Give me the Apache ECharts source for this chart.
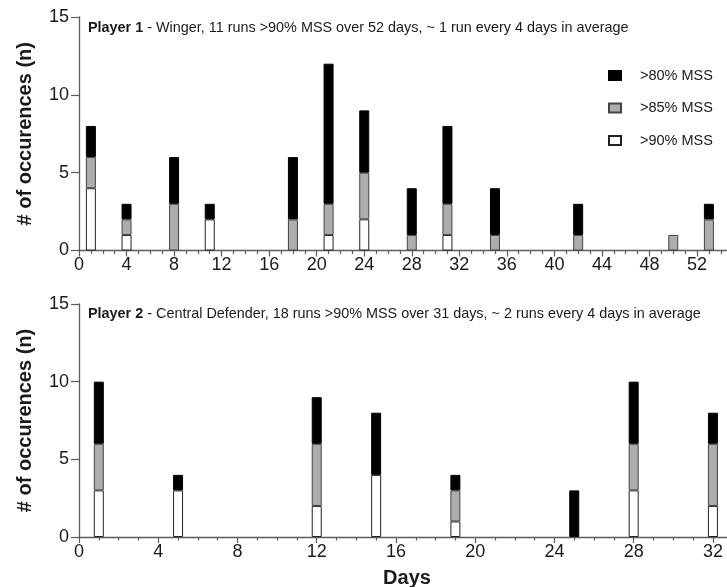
<!DOCTYPE html>
<html>
<head>
<meta charset="utf-8">
<script src="https://cdn.jsdelivr.net/npm/echarts@6/dist/echarts.min.js"></script>
<style>
  html, body { margin: 0; padding: 0; background: #fff; }
  #chart { width: 727px; height: 587px; }
</style>
</head>
<body>
<div id="chart"></div>
<script>
// Player 1 (Winger): days with high-speed runs, counts per speed band
const p1Days   = [1, 4, 8, 11, 18, 21, 24, 28, 31, 35, 42, 50, 53];
const p1Over90 = [4, 1, 0, 2, 0, 1, 2, 0, 1, 0, 0, 0, 0];
const p1Over85 = [2, 1, 3, 0, 2, 2, 3, 1, 2, 1, 1, 1, 2];
const p1Over80 = [2, 1, 3, 1, 4, 9, 4, 3, 5, 3, 2, 0, 1];

// Player 2 (Central Defender)
const p2Days   = [1, 5, 12, 15, 19, 25, 28, 32];
const p2Over90 = [3, 3, 2, 4, 1, 0, 3, 2];
const p2Over85 = [3, 0, 4, 0, 2, 0, 3, 4];
const p2Over80 = [4, 1, 3, 4, 1, 3, 4, 2];

const bandNames = ['>90% MSS', '>85% MSS', '>80% MSS'];
const bandColors = ['#ffffff', '#adadad', '#000000'];
const bandBorders = ['#222222', '#444444', '#000000'];

const xTicks = 4;
const yTicks = 5;
const yMax = 15;
const p1AxisMax = 56;
const p2AxisMax = 36;

const FONT = 'Liberation Sans, Arial, sans-serif';
const TXT = '#1a1a1a';
const AXIS = '#5c5c5c';

// one category per day, so stacked bars line up with the value axis ticks
function dayCategories(max) {
  const out = [];
  for (let d = 0; d <= max; d++) out.push(String(d));
  return out;
}

function pairs(days, vals) {
  return days.map((d, i) => [d, vals[i] === 0 ? null : vals[i]]);
}

function bandSeries(catAxis, yIdx, days, bands, stackId) {
  return bands.map((vals, b) => ({
    name: bandNames[b],
    type: 'bar',
    xAxisIndex: catAxis,
    yAxisIndex: yIdx,
    stack: stackId,
    barWidth: 10,
    data: pairs(days, vals),
    itemStyle: { color: bandColors[b], borderColor: bandBorders[b], borderWidth: 1 },
    emphasis: { disabled: true },
    animation: false
  }));
}

function xAxisDef(idx, max) {
  return {
    type: 'value', gridIndex: idx, min: 0, max: max, interval: xTicks,
    axisLine: { lineStyle: { color: AXIS, width: 1.3 } },
    axisTick: { length: 6, lineStyle: { color: AXIS, width: 1.2 } },
    minorTick: { show: true, splitNumber: 4, length: 3.5, lineStyle: { color: AXIS, width: 1.2 } },
    axisLabel: { fontSize: 18, color: TXT, fontFamily: FONT, margin: 6 },
    splitLine: { show: false },
    minorSplitLine: { show: false }
  };
}

function catAxisDef(idx, max) {
  return {
    type: 'category', gridIndex: idx, data: dayCategories(max), boundaryGap: false,
    show: false
  };
}

function yAxisDef(idx) {
  return {
    type: 'value', gridIndex: idx, min: 0, max: yMax, interval: yTicks,
    name: '# of occurences (n)', nameLocation: 'middle', nameGap: 44,
    nameTextStyle: { fontSize: 20, fontWeight: 'bold', color: TXT, fontFamily: FONT },
    axisLine: { show: true, lineStyle: { color: AXIS, width: 1.3 } },
    axisTick: { show: true, length: 8, lineStyle: { color: AXIS, width: 1.2 } },
    axisLabel: { fontSize: 18, color: TXT, fontFamily: FONT, margin: 10 },
    splitLine: { show: false }
  };
}

function panelTitle(boldPart, rest, top) {
  return {
    text: '{b|' + boldPart + '}' + rest,
    left: 88, top: top, padding: 0,
    textStyle: {
      fontSize: 14.4, fontWeight: 'normal', color: TXT, fontFamily: FONT,
      rich: { b: { fontSize: 14.4, fontWeight: 'bold', color: TXT, fontFamily: FONT } }
    }
  };
}

const chart = echarts.init(document.getElementById('chart'), null, { renderer: 'canvas' });
chart.setOption({
  backgroundColor: '#ffffff',
  animation: false,
  title: [
    panelTitle('Player 1', ' - Winger, 11 runs >90% MSS over 52 days, ~ 1 run every 4 days in average', 21),
    panelTitle('Player 2', ' - Central Defender, 18 runs >90% MSS over 31 days, ~ 2 runs every 4 days in average', 307),
    {
      text: 'Days', left: 407, top: 568, padding: 0, textAlign: 'center',
      textStyle: { fontSize: 20, fontWeight: 'bold', color: TXT, fontFamily: FONT }
    }
  ],
  legend: {
    data: ['>80% MSS', '>85% MSS', '>90% MSS'],
    orient: 'vertical', left: 603, top: 63,
    icon: 'rect', itemWidth: 12, itemHeight: 9, itemGap: 17.5,
    selectedMode: false,
    textStyle: { fontSize: 14.5, color: TXT, fontFamily: FONT, padding: [0, 0, 0, 14] }
  },
  grid: [
    { left: 79, top: 17, width: p1AxisMax * 11.885, height: 233.5, containLabel: false, outerBoundsMode: 'none' },
    { left: 79, top: 304, width: p2AxisMax * 19.81, height: 233, containLabel: false, outerBoundsMode: 'none' }
  ],
  xAxis: [
    xAxisDef(0, p1AxisMax), xAxisDef(1, p2AxisMax),
    catAxisDef(0, p1AxisMax), catAxisDef(1, p2AxisMax)
  ],
  yAxis: [yAxisDef(0), yAxisDef(1)],
  series: [
    ...bandSeries(2, 0, p1Days, [p1Over90, p1Over85, p1Over80], 'p1'),
    ...bandSeries(3, 1, p2Days, [p2Over90, p2Over85, p2Over80], 'p2')
  ]
});
</script>
</body>
</html>
